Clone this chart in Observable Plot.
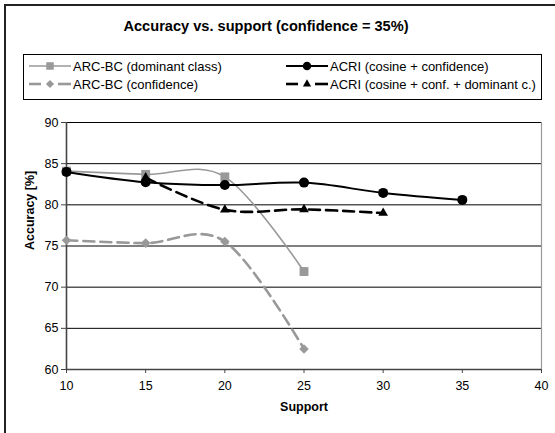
<!DOCTYPE html>
<html>
<head>
<meta charset="utf-8">
<script src="https://cdn.jsdelivr.net/npm/d3@7"></script>
<script src="https://cdn.jsdelivr.net/npm/@observablehq/plot@0.6"></script>
<style>
  html, body { margin: 0; padding: 0; background: #fff; }
  #chart { position: relative; width: 555px; height: 433px; overflow: hidden; font-family: "Liberation Sans", Arial, sans-serif; background: #fff; }
  #frame { position: absolute; left: 4px; top: 4px; width: 620px; height: 520px; border: 2px solid #222; }
  #title { position: absolute; left: 0; top: 18px; width: 532px; text-align: center; font-weight: bold; font-size: 14.6px; color: #000; }
  #legend { position: absolute; left: 23px; top: 54px; width: 517px; height: 44px; border: 1px solid #000; }
  .entry { position: absolute; font-size: 13px; color: #000; white-space: nowrap; display: flex; align-items: center; }
  .entry svg { margin-right: 1px; }
  #plot { position: absolute; left: 0; top: 100px; }
</style>
</head>
<body>
<div id="chart">
  <div id="frame"></div>
  <div id="title">Accuracy vs. support (confidence = 35%)</div>
  <div id="legend"></div>
  <div id="plot"></div>
</div>
<script>
// ---- data ----
const support = [10, 15, 20, 25, 30, 35];
const arcDominant = [84.1, 83.7, 83.4, 71.9];        // supports 10..25
const arcConfidence = [75.7, 75.35, 75.55, 62.5];    // supports 10..25
const acriCosConf = [84.0, 82.75, 82.4, 82.7, 81.45, 80.6]; // supports 10..35
const acriSupport = [15, 20, 25, 30];
const acriCosConfDom = [83.3, 79.4, 79.45, 79.0];
const xTicks = [10, 15, 20, 25, 30, 35, 40];
const yTicks = [60, 65, 70, 75, 80, 85, 90];
const seriesNames = [
  "ARC-BC (dominant class)",
  "ARC-BC (confidence)",
  "ACRI (cosine + confidence)",
  "ACRI (cosine + conf. + dominant c.)"
];

const series = [
  {name: seriesNames[0], xs: support.slice(0, 4), ys: arcDominant, color: "#999999", width: 1.6, dash: null, symbol: "square", r: 5},
  {name: seriesNames[1], xs: support.slice(0, 4), ys: arcConfidence, color: "#999999", width: 2.6, dash: "11,6", symbol: "diamond2", r: 4.3},
  {name: seriesNames[2], xs: support, ys: acriCosConf, color: "#000000", width: 2, dash: null, symbol: "circle", r: 5},
  {name: seriesNames[3], xs: acriSupport, ys: acriCosConfDom, color: "#000000", width: 2.6, dash: "11,6", symbol: "triangle", r: 3.6}
];
const rows = series.map(s => s.xs.map((x, i) => ({series: s.name, x, y: s.ys[i]})));

const marks = [
  Plot.ruleY(yTicks.slice(1), {stroke: "#000", strokeWidth: 1}),
  Plot.ruleX([40], {stroke: "#999", strokeWidth: 1.2}),
  Plot.ruleX([10], {stroke: "#444", strokeWidth: 1.6}),
  Plot.ruleY([60], {stroke: "#444", strokeWidth: 1.6}),
  Plot.axisX({ticks: xTicks, tickSize: 4, tickPadding: 8, fontSize: 12.5, stroke: "#444", label: null, fill: "#000"}),
  Plot.axisY({ticks: yTicks, tickSize: 5, tickPadding: 3, fontSize: 12.5, stroke: "#444", label: null, fill: "#000"}),
  Plot.text(["Accuracy [%]"], {frameAnchor: "left", dx: -37, dy: 4, rotate: -90, text: d => d, fontWeight: "bold", fontSize: 12.5, fill: "#000"}),
  Plot.text(["Support"], {frameAnchor: "bottom", dy: 41, text: d => d, fontWeight: "bold", fontSize: 12.5, fill: "#000"})
];
series.forEach((s, k) => {
  marks.push(Plot.line(rows[k], {x: "x", y: "y", stroke: s.color, strokeWidth: s.width, strokeDasharray: s.dash, curve: "cardinal"}));
  marks.push(Plot.dot(rows[k], {x: "x", y: "y", symbol: () => s.symbol, r: s.r, fill: s.color, stroke: "none"}));
});

const chart = Plot.plot({
  width: 555,
  height: 333,
  marginLeft: 66,
  marginRight: 14,
  marginTop: 22,
  marginBottom: 64,
  style: {fontFamily: "Liberation Sans, Arial, sans-serif", background: "transparent", overflow: "visible"},
  x: {domain: [10, 40]},
  y: {domain: [60, 90]},
  symbol: {type: "identity"},
  marks
});
document.getElementById("plot").appendChild(chart);

// ---- legend ----
const legendPos = [
  {left: 4, top: 2}, {left: 4, top: 20}, {left: 261, top: 2}, {left: 261, top: 20}
];
const legend = document.getElementById("legend");
series.forEach((s, k) => {
  const div = document.createElement("div");
  div.className = "entry";
  div.style.left = legendPos[k].left + "px";
  div.style.top = legendPos[k].top + "px";
  div.style.height = "18px";
  const w = 44, h = 18, cx = w / 2, cy = h / 2;
  const sym = d3.symbol().type({square: d3.symbolSquare, diamond2: d3.symbolDiamond2, circle: d3.symbolCircle, triangle: d3.symbolTriangle}[s.symbol]).size(Math.PI * (s.r * 0.85) ** 2);
  const svg = d3.create("svg").attr("width", w).attr("height", h);
  if (s.dash) {
    svg.append("line").attr("x1", 1).attr("x2", 13).attr("y1", cy).attr("y2", cy).attr("stroke", s.color).attr("stroke-width", s.width);
    svg.append("line").attr("x1", 30).attr("x2", 43).attr("y1", cy).attr("y2", cy).attr("stroke", s.color).attr("stroke-width", s.width);
  } else {
    svg.append("line").attr("x1", 1).attr("x2", 43).attr("y1", cy).attr("y2", cy).attr("stroke", s.color).attr("stroke-width", s.width);
  }
  svg.append("path").attr("d", sym()).attr("transform", `translate(${cx},${cy})`).attr("fill", s.color);
  div.appendChild(svg.node());
  const span = document.createElement("span");
  span.textContent = s.name;
  div.appendChild(span);
  legend.appendChild(div);
});
</script>
</body>
</html>
